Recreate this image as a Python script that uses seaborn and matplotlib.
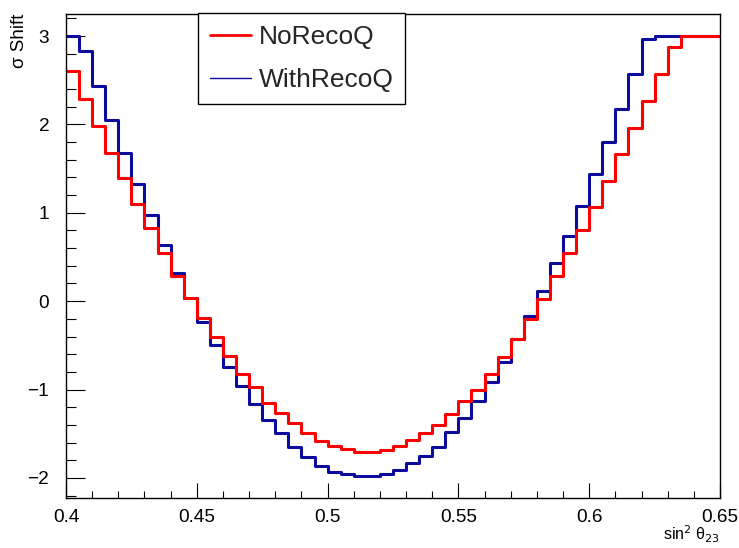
import numpy as np
import pandas as pd
import matplotlib.pyplot as plt
from matplotlib.lines import Line2D
from matplotlib.ticker import MultipleLocator, FuncFormatter
import seaborn as sns

# sin^2 theta23 binning: 50 bins from 0.4 to 0.65
bin_edges = np.round(np.linspace(0.4, 0.65, 51), 4)

# sigma shift per bin
no_recoq = [2.60, 2.29, 1.98, 1.68, 1.39, 1.10, 0.83, 0.55, 0.29, 0.04,
            -0.19, -0.40, -0.62, -0.82, -0.97, -1.15, -1.27, -1.38, -1.49, -1.58,
            -1.64, -1.67, -1.71, -1.71, -1.68, -1.64, -1.57, -1.49, -1.40, -1.28,
            -1.13, -1.00, -0.82, -0.63, -0.43, -0.20, 0.03, 0.28, 0.54, 0.80,
            1.07, 1.36, 1.66, 1.96, 2.27, 2.57, 2.87, 3.00, 3.00, 3.00]
with_recoq = [3.00, 2.83, 2.43, 2.05, 1.68, 1.32, 0.98, 0.64, 0.32, 0.04,
              -0.24, -0.50, -0.74, -0.96, -1.16, -1.34, -1.49, -1.65, -1.76, -1.86,
              -1.93, -1.96, -1.98, -1.98, -1.96, -1.91, -1.83, -1.75, -1.65, -1.48,
              -1.32, -1.13, -0.92, -0.69, -0.43, -0.17, 0.12, 0.43, 0.74, 1.08,
              1.44, 1.80, 2.17, 2.57, 2.97, 3.00, 3.00, 3.00, 3.00, 3.00]

samples = ["NoRecoQ", "WithRecoQ"]
colours = {"NoRecoQ": "#ff0000", "WithRecoQ": "#0c0c9c"}

sns.set_theme(style="ticks")
plt.rcParams['font.family'] = ['Liberation Sans', 'DejaVu Sans']


def hist_frame(values):
    # step outline: each bin value held from its low edge, last one repeated to close the bin
    return pd.DataFrame({"sin2": bin_edges, "shift": list(values) + [values[-1]]})


fig = plt.figure(figsize=(7.39, 5.48), dpi=100)
ax = fig.add_axes([66/739, 1 - 498/548, 654/739, 484/548])

# blue first so the red one sits on top where they overlap
sns.lineplot(data=hist_frame(with_recoq), x="sin2", y="shift", estimator=None, sort=False,
             drawstyle="steps-post", color=colours["WithRecoQ"], linewidth=2.2, ax=ax)
sns.lineplot(data=hist_frame(no_recoq), x="sin2", y="shift", estimator=None, sort=False,
             drawstyle="steps-post", color=colours["NoRecoQ"], linewidth=2.2, ax=ax)

ax.set_xlim(0.4, 0.65)
ax.set_ylim(-2.227, 3.249)

ax.xaxis.set_major_locator(MultipleLocator(0.05))
ax.xaxis.set_minor_locator(MultipleLocator(0.01))
ax.xaxis.set_major_formatter(FuncFormatter(lambda v, p: f"{v:g}"))
ax.yaxis.set_major_locator(MultipleLocator(1))
ax.yaxis.set_minor_locator(MultipleLocator(0.2))

ax.tick_params(axis='both', which='both', direction='in', top=False, right=False,
               color='black', width=0.8, labelsize=13.7, labelcolor='black')
ax.tick_params(axis='x', which='major', length=10.8, pad=8)
ax.tick_params(axis='x', which='minor', length=5.4)
ax.tick_params(axis='y', which='major', length=13.7, pad=12)
ax.tick_params(axis='y', which='minor', length=7.2)

for s in ax.spines.values():
    s.set_visible(True)
    s.set_color('black')
    s.set_linewidth(1.0)

ax.set_ylabel("σ Shift", loc='top', fontsize=13.5, color='black')
ax.yaxis.set_label_coords(-0.058, 1.0)
ax.set_xlabel(r"sin$^{2}$ θ$_{23}$", loc='right', fontsize=11.5, color='black', labelpad=-1.5)

handles = [Line2D([], [], color=colours["NoRecoQ"], lw=2.0),
           Line2D([], [], color=colours["WithRecoQ"], lw=1.0)]
leg = fig.legend(handles, samples, loc='upper left',
                 bbox_to_anchor=(198/739, 1 - 13/548), bbox_transform=fig.transFigure,
                 borderaxespad=0, fontsize=19, handlelength=1.55, handletextpad=0.3,
                 labelspacing=0.72, borderpad=0.45, frameon=True, fancybox=False,
                 framealpha=1, edgecolor='black')
leg.get_frame().set_linewidth(1.0)

fig.savefig("out.png", dpi=100)
